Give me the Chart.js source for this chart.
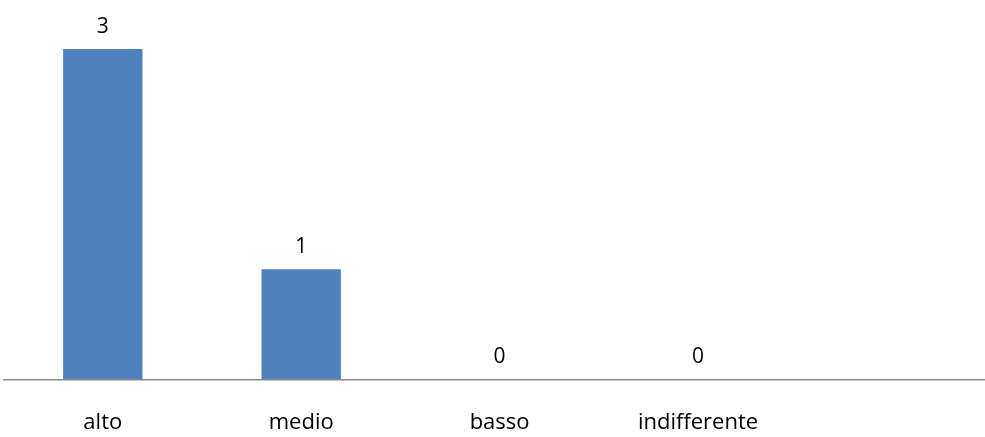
<!DOCTYPE html>
<html>
<head>
<meta charset="utf-8">
<script src="https://cdn.jsdelivr.net/npm/chart.js@4/dist/chart.umd.min.js"></script>
<style>
  html, body { margin: 0; padding: 0; background: #fff; overflow: hidden; }
  #wrap { width: 985px; height: 437px; overflow: hidden; }
</style>
</head>
<body>
<div id="wrap"><canvas id="myChart" width="1000" height="437"></canvas></div>
<script>
// categories and values (5th slot is empty in the original)
const categories = ["alto", "medio", "basso", "indifferente", ""];
const counts = [3, 1, 0, 0, null];

const fontFamily = "'Open Sans', sans-serif";

// draw the value above each bar
const valueLabels = {
  id: "valueLabels",
  afterDatasetsDraw(chart) {
    const ctx = chart.ctx;
    const meta = chart.getDatasetMeta(0);
    ctx.save();
    ctx.font = "21px " + fontFamily;
    ctx.fillStyle = "#000";
    ctx.textAlign = "center";
    ctx.textBaseline = "middle";
    meta.data.forEach((bar, i) => {
      const v = counts[i];
      if (v === null || v === undefined) return;
      ctx.fillText(String(v), bar.x, bar.y - 22);
    });
    ctx.restore();
  }
};

new Chart("myChart", {
  type: "bar",
  data: {
    labels: categories,
    datasets: [{
      data: counts,
      backgroundColor: "#4f81bd",
      borderWidth: 0,
      categoryPercentage: 1,
      barPercentage: 0.4
    }]
  },
  options: {
    responsive: false,
    animation: false,
    layout: { padding: { left: 3.6, right: 4.4, top: 5, bottom: 0 } },
    plugins: {
      legend: { display: false },
      tooltip: { enabled: false }
    },
    scales: {
      x: {
        grid: { display: false, drawTicks: false },
        border: { display: true, color: "#888888", width: 1.5 },
        ticks: {
          color: "#000",
          font: { family: fontFamily, size: 22 },
          padding: 30,
          maxRotation: 0,
          autoSkip: false
        },
        afterFit(scale) { scale.height = 57.7; }
      },
      y: {
        display: false,
        min: 0,
        max: 3.4
      }
    }
  },
  plugins: [valueLabels]
});
</script>
</body>
</html>
